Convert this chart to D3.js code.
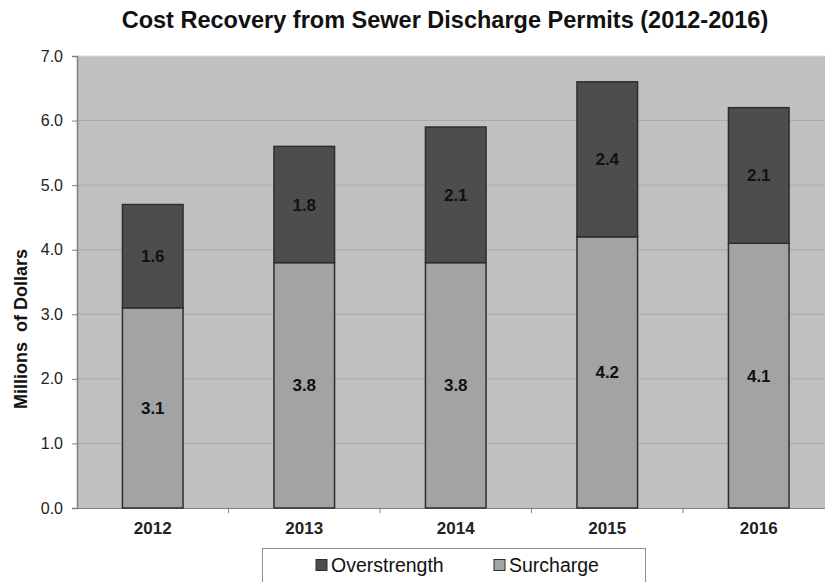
<!DOCTYPE html>
<html>
<head>
<meta charset="utf-8">
<script src="https://cdn.jsdelivr.net/npm/d3@7"></script>
<style>
  html, body { margin: 0; padding: 0; background: #fff; }
  svg { display: block; font-family: "Liberation Sans", Arial, sans-serif; }
</style>
</head>
<body>
<svg id="chart" width="825" height="582"></svg>
<script>
// Cost recovery by year, millions of dollars
const years = ["2012", "2013", "2014", "2015", "2016"];
const surcharge = [3.1, 3.8, 3.8, 4.2, 4.1];
const overstrength = [1.6, 1.8, 2.1, 2.4, 2.1];
const yTicks = [0, 1, 2, 3, 4, 5, 6, 7];
const seriesNames = ["Overstrength", "Surcharge"];

const FONT = "'Liberation Sans', Arial, sans-serif";
const svg = d3.select("#chart");
const plot = { left: 77, top: 56, right: 834.5, bottom: 508 };

const x = d3.scaleBand().domain(years).range([plot.left, plot.right]).paddingInner(0.6).paddingOuter(0.3);
const xOuter = d3.scaleBand().domain(years).range([plot.left, plot.right]);
const y = d3.scaleLinear().domain([0, 7]).range([plot.bottom, plot.top]);

// plot background
svg.append("rect")
  .attr("x", plot.left).attr("y", plot.top)
  .attr("width", plot.right - plot.left).attr("height", plot.bottom - plot.top)
  .attr("fill", "#c0c0c0");

// horizontal gridlines
svg.append("g").selectAll("line").data(yTicks.slice(1)).join("line")
  .attr("x1", plot.left).attr("x2", plot.right)
  .attr("y1", d => y(d)).attr("y2", d => y(d))
  .attr("stroke", d => d === 7 ? "#d8d8d8" : "#a9a9a9").attr("stroke-width", 1);

// y axis
const yAxis = svg.append("g").attr("transform", `translate(${plot.left},0)`)
  .call(d3.axisLeft(y).tickValues(yTicks).tickFormat(d3.format(".1f")).tickSize(5).tickPadding(9));
yAxis.select(".domain").attr("stroke", "#7f7f7f").attr("stroke-width", 1.5);
yAxis.selectAll(".tick line").attr("stroke", "#7f7f7f");
yAxis.selectAll(".tick text").attr("font-size", 16).attr("fill", "#222").attr("font-family", FONT);

// x axis
const xAxis = svg.append("g").attr("transform", `translate(0,${plot.bottom})`)
  .call(d3.axisBottom(xOuter).tickSize(0).tickPadding(14));
xAxis.select(".domain").attr("stroke", "#7f7f7f").attr("stroke-width", 1);
xAxis.selectAll(".tick text").attr("font-size", 17).attr("font-weight", "bold").attr("fill", "#222")
  .attr("font-family", FONT);
// category separator ticks
svg.append("g").selectAll("line").data(years.slice(1)).join("line")
  .attr("x1", d => xOuter(d)).attr("x2", d => xOuter(d))
  .attr("y1", plot.bottom).attr("y2", plot.bottom + 5)
  .attr("stroke", "#7f7f7f");

// stacked bars
const rows = years.map((yr, i) => ({ year: yr, surcharge: surcharge[i], overstrength: overstrength[i] }));
const stack = d3.stack().keys(["surcharge", "overstrength"])(rows);
const colors = { surcharge: "#a3a3a3", overstrength: "#4d4d4d" };

stack.forEach(layer => {
  const g = svg.append("g");
  g.selectAll("rect").data(layer).join("rect")
    .attr("x", d => x(d.data.year))
    .attr("width", x.bandwidth())
    .attr("y", d => y(d[1]))
    .attr("height", d => y(d[0]) - y(d[1]))
    .attr("fill", colors[layer.key])
    .attr("stroke", "#2e2e2e").attr("stroke-width", 1.5);
  g.selectAll("text").data(layer).join("text")
    .attr("x", d => x(d.data.year) + x.bandwidth() / 2)
    .attr("y", d => (y(d[0]) + y(d[1])) / 2 + 6)
    .attr("text-anchor", "middle")
    .attr("font-size", 17).attr("font-weight", "bold").attr("fill", "#111")
    .text(d => d3.format(".1f")(d.data[layer.key]));
});

// title
svg.append("text")
  .attr("x", 445).attr("y", 28)
  .attr("text-anchor", "middle")
  .attr("font-size", 23.5).attr("font-weight", "bold").attr("fill", "#111")
  .text("Cost Recovery from Sewer Discharge Permits (2012-2016)");

// y axis title
svg.append("text")
  .attr("transform", `translate(27,329) rotate(-90)`)
  .attr("text-anchor", "middle")
  .attr("font-size", 18).attr("font-weight", "bold").attr("fill", "#111")
  .attr("xml:space", "preserve")
  .text("Millions  of Dollars");

// legend
const legend = svg.append("g");
legend.append("rect")
  .attr("x", 262.5).attr("y", 548.5).attr("width", 383).attr("height", 40)
  .attr("fill", "#fff").attr("stroke", "#8c8c8c");
const legendItems = [
  { name: seriesNames[0], color: colors.overstrength, x: 316 },
  { name: seriesNames[1], color: colors.surcharge, x: 494 }
];
legendItems.forEach(it => {
  legend.append("rect")
    .attr("x", it.x).attr("y", 559.5).attr("width", 11).attr("height", 11)
    .attr("fill", it.color).attr("stroke", "#2e2e2e").attr("stroke-width", 1);
  legend.append("text")
    .attr("x", it.x + 15).attr("y", 572)
    .attr("font-size", 19.5).attr("fill", "#111")
    .text(it.name);
});
</script>
</body>
</html>
